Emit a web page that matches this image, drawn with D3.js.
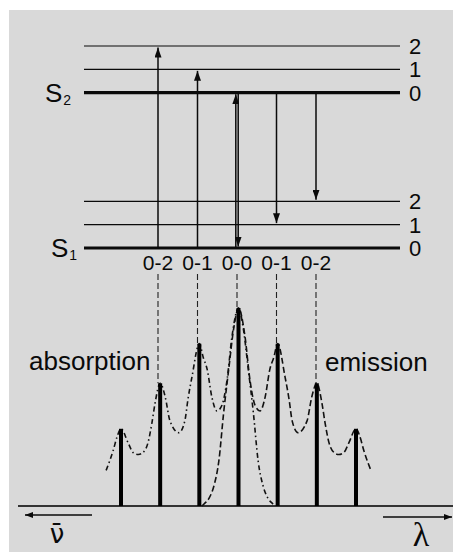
<!DOCTYPE html>
<html><head><meta charset="utf-8">
<script src="https://cdn.jsdelivr.net/npm/d3@7"></script>
<style>html,body{margin:0;padding:0;background:#fff;}svg{display:block;}</style>
</head><body>
<svg id="chart" width="453" height="552"></svg>
<script>
// ---------- data ----------
const vibLevels = [0, 1, 2];                 // vibrational quantum numbers
const s1Energies = [0, 1, 2];                // S1 levels (relative units)
const s2Energies = [6.65, 7.65, 8.65];       // S2 levels
const stateNames = ["1", "2"];               // S1, S2 subscripts
const transitionLabels = ["0-2", "0-1", "0-0", "0-1", "0-2"];
const transitionPos = [-2, -1, 0, 1, 2];
// absorption: S1 v=0 -> S2 v ; emission: S2 v=0 -> S1 v
const absorptionTargets = [2, 1, 0];         // at positions -2,-1,0
const emissionTargets = [0, 1, 2];           // at positions 0,1,2
const stickPos = [-3, -2, -1, 0, 1, 2, 3];
const stickIntensity = [0.39, 0.62, 0.82, 1.0, 0.82, 0.62, 0.39];
const absorptionX = [-3.38,-3.2,-3.1,-3.0,-2.82,-2.69,-2.56,-2.44,-2.31,-2.21,-2.13,-2.0,-1.87,-1.75,-1.52,-1.37,-1.29,-1.19,-1.0,-0.9,-0.8,-0.68,-0.55,-0.42,-0.29,-0.17,0,0.12,0.25,0.38,0.5,0.63,0.75,0.88,0.93];
const absorptionY = [0.18,0.28,0.35,0.39,0.32,0.27,0.26,0.27,0.32,0.42,0.52,0.62,0.55,0.43,0.37,0.43,0.54,0.65,0.82,0.75,0.69,0.55,0.48,0.51,0.64,0.85,1.0,0.9,0.69,0.47,0.23,0.10,0.04,0.01,0];
const emissionX = [-0.93,-0.88,-0.75,-0.63,-0.5,-0.38,-0.25,-0.12,0,0.17,0.29,0.42,0.55,0.68,0.8,0.9,1.0,1.19,1.29,1.37,1.52,1.75,1.87,2.0,2.13,2.21,2.31,2.44,2.56,2.69,2.82,3.0,3.1,3.2,3.38];
const emissionY = [0,0.01,0.04,0.10,0.23,0.47,0.69,0.9,1.0,0.85,0.64,0.51,0.48,0.55,0.69,0.75,0.82,0.65,0.54,0.43,0.37,0.43,0.55,0.62,0.52,0.42,0.32,0.27,0.26,0.27,0.32,0.39,0.35,0.28,0.18];
const curveLabels = ["absorption", "emission"];
const axisLabels = ["\u03BD\u0304", "\u03BB"];

// ---------- scales ----------
const svg = d3.select("#chart");
const ey = d3.scaleLinear().domain([0, 8.65]).range([248, 46]);   // energy
const tx = d3.scaleLinear().domain([-2, 2]).range([158, 316]);    // transitions
const sx = d3.scaleLinear().domain([-3, 3]).range([121, 356]);    // spectrum x
const sy = d3.scaleLinear().domain([0, 1]).range([506, 308]);     // spectrum intensity

const ink = "#0a0a0a";
const sans = "Liberation Sans, Arial, sans-serif";
svg.append("rect").attr("x", 9).attr("y", 10).attr("width", 444).attr("height", 542).attr("fill", "#d9d9d9");

const defs = svg.append("defs");
function marker(id, len, wid) {
  defs.append("marker").attr("id", id).attr("markerUnits", "userSpaceOnUse")
    .attr("viewBox", `0 0 ${len} ${wid}`).attr("refX", len).attr("refY", wid / 2)
    .attr("markerWidth", len).attr("markerHeight", wid).attr("orient", "auto")
    .append("path").attr("d", `M0,0L${len},${wid/2}L0,${wid}Z`).attr("fill", ink);
}
marker("ah", 10, 7);
marker("ax", 8, 6);

// ---------- energy levels ----------
const levels = [];
vibLevels.forEach((v, i) => { levels.push({ v, e: s1Energies[i] }); levels.push({ v, e: s2Energies[i] }); });
svg.append("g").selectAll("line").data(levels).join("line")
  .attr("x1", 84).attr("x2", 400)
  .attr("y1", d => ey(d.e)).attr("y2", d => ey(d.e))
  .attr("stroke", ink).attr("stroke-width", d => d.v === 0 ? 3.2 : 1.2);
svg.append("g").selectAll("text").data(levels).join("text")
  .attr("x", 415).attr("y", d => ey(d.e) + 8)
  .attr("text-anchor", "middle").attr("font-family", sans)
  .attr("font-size", 22).attr("fill", ink).text(d => d.v);

// state labels
const states = [{ n: stateNames[0], e: s1Energies[0], x: 51 }, { n: stateNames[1], e: s2Energies[0], x: 45 }];
const st = svg.append("g").selectAll("text").data(states).join("text")
  .attr("x", d => d.x).attr("y", d => ey(d.e) + 9)
  .attr("font-family", sans).attr("font-size", 26).attr("fill", ink);
st.append("tspan").text("S");
st.append("tspan").attr("font-size", 14).attr("dx", 1).attr("dy", 3).text(d => d.n);

// ---------- transition arrows ----------
const arrows = [];
absorptionTargets.forEach((v, i) => arrows.push({ p: transitionPos[i], from: s1Energies[0], to: s2Energies[v], off: transitionPos[i] === 0 ? -1.2 : 0 }));
emissionTargets.forEach((v, i) => arrows.push({ p: transitionPos[i + 2], from: s2Energies[0], to: s1Energies[v], off: transitionPos[i + 2] === 0 ? 1.2 : 0 }));
svg.append("g").selectAll("line").data(arrows).join("line")
  .attr("x1", d => tx(d.p) + d.off).attr("x2", d => tx(d.p) + d.off)
  .attr("y1", d => ey(d.from)).attr("y2", d => ey(d.to) + (d.to > d.from ? 1.5 : -1.5))
  .attr("stroke", ink).attr("stroke-width", 1.5).attr("marker-end", "url(#ah)");

svg.append("g").selectAll("text").data(transitionLabels).join("text")
  .attr("x", (d, i) => tx(transitionPos[i])).attr("y", 270)
  .attr("text-anchor", "middle").attr("font-family", sans)
  .attr("font-size", 21).attr("fill", ink).text(d => d);

// guide dashed lines
svg.append("g").selectAll("line").data(transitionPos).join("line")
  .attr("x1", d => tx(d)).attr("x2", d => tx(d))
  .attr("y1", 274).attr("y2", d => sy(stickIntensity[stickPos.indexOf(d)]))
  .attr("stroke", "#222").attr("stroke-width", 1.1).attr("stroke-dasharray", "6,3");

// ---------- spectrum ----------
svg.append("line").attr("x1", 18).attr("x2", 453).attr("y1", sy(0)).attr("y2", sy(0))
  .attr("stroke", "#333").attr("stroke-width", 2);

const line = d3.line().x(d => sx(d[0])).y(d => sy(d[1])).curve(d3.curveMonotoneX);
svg.append("path").attr("d", line(absorptionX.map((x, i) => [x, absorptionY[i]])))
  .attr("fill", "none").attr("stroke", "#111").attr("stroke-width", 1.6).attr("stroke-dasharray", "5,3,1.5,3");
svg.append("path").attr("d", line(emissionX.map((x, i) => [x, emissionY[i]])))
  .attr("fill", "none").attr("stroke", "#111").attr("stroke-width", 1.6).attr("stroke-dasharray", "6,3");

svg.append("g").selectAll("line").data(stickPos).join("line")
  .attr("x1", d => sx(d)).attr("x2", d => sx(d))
  .attr("y1", sy(0)).attr("y2", (d, i) => sy(stickIntensity[i]))
  .attr("stroke", "#000").attr("stroke-width", 4);

svg.append("text").attr("x", 29).attr("y", 370).attr("font-family", sans)
  .attr("font-size", 26).attr("fill", ink).text(curveLabels[0]);
svg.append("text").attr("x", 325).attr("y", 371).attr("font-family", sans)
  .attr("font-size", 26).attr("fill", ink).text(curveLabels[1]);

// axis arrows
svg.append("line").attr("x1", 92).attr("x2", 25).attr("y1", 515).attr("y2", 515)
  .attr("stroke", ink).attr("stroke-width", 1.5).attr("marker-end", "url(#ax)");
svg.append("line").attr("x1", 383).attr("x2", 452).attr("y1", 517).attr("y2", 517)
  .attr("stroke", ink).attr("stroke-width", 1.5).attr("marker-end", "url(#ax)");
svg.append("text").attr("x", 57).attr("y", 543).attr("text-anchor", "middle")
  .attr("font-family", "DejaVu Sans, sans-serif").attr("font-size", 26).attr("fill", ink).text(axisLabels[0]);
svg.append("text").attr("x", 421).attr("y", 546).attr("text-anchor", "middle")
  .attr("font-family", "Liberation Serif, Times New Roman, serif").attr("font-size", 34).attr("fill", ink).text(axisLabels[1]);
</script>
</body></html>
